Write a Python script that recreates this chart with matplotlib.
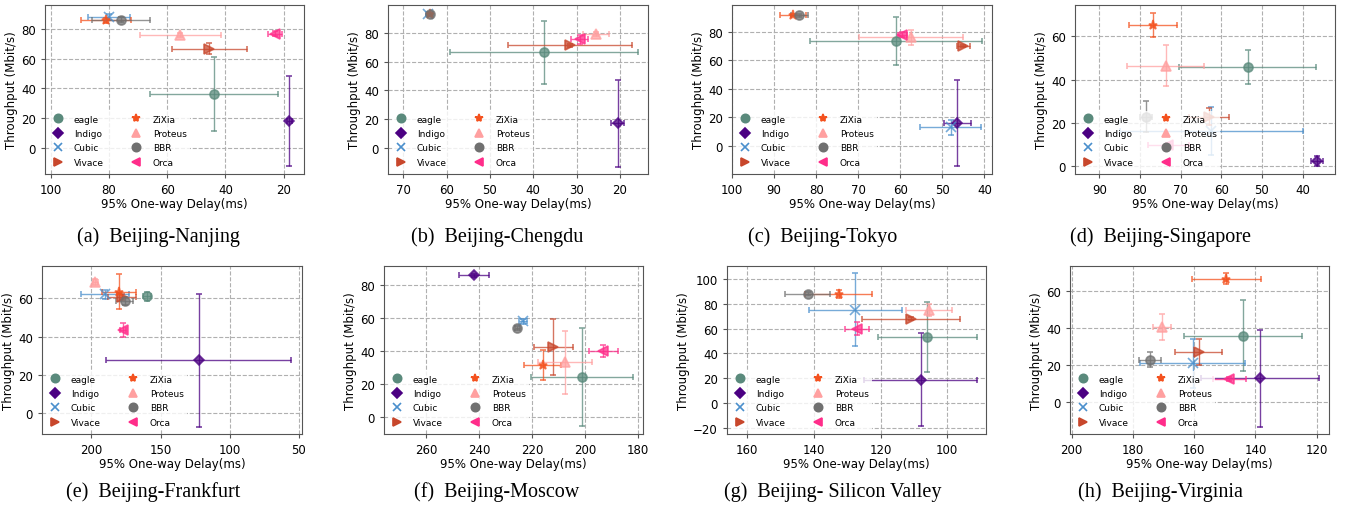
import matplotlib
matplotlib.use('Agg')
import matplotlib.pyplot as plt
from matplotlib.ticker import MultipleLocator
from matplotlib.lines import Line2D

# algorithms (same order in every route)
algos = ['eagle', 'Indigo', 'Cubic', 'Vivace', 'ZiXia', 'Proteus', 'BBR', 'Orca']
colors = ['#5a8a7c', '#4b0082', '#4a8fcc', '#c8472c', '#f4511e', '#ffa0a0', '#707070', '#ff2d8a']
markers = ['o', 'D', 'x', '>', '*', '^', 'o', '<']

routes = ['Beijing-Nanjing', 'Beijing-Chengdu', 'Beijing-Tokyo', 'Beijing-Singapore',
          'Beijing-Frankfurt', 'Beijing-Moscow', 'Beijing- Silicon Valley', 'Beijing-Virginia']

# 95% one-way delay (ms) and its error
delay = [
    [44, 18, 80, 45.5, 81, 55.5, 76, 23],
    [37.5, 20.5, 64.2, 31.5, 63.8, 25.5, 63.7, 29.3],
    [61, 46.5, 48, 45, 85.5, 57.5, 84, 59.5],
    [53.5, 36.5, 62.5, 63, 76.8, 73.7, 78.5, 73],
    [160, 122.5, 190, 178, 180, 197, 176, 177],
    [201, 242, 223.5, 212, 216, 207.5, 225.5, 193],
    [106, 108, 127.5, 111, 132.5, 105.5, 141.8, 127],
    [144, 138.5, 160.5, 158.5, 149.5, 170.5, 174.5, 148.5],
]
delay_err = [
    [22, 1, 7.3, 13, 8.5, 14, 10, 2.5],
    [21.7, 1.5, 0.5, 14.2, 0.5, 3, 0.5, 2],
    [20.5, 3.2, 7.2, 1.5, 3.2, 12.4, 2, 1],
    [16.8, 1.5, 22.5, 5, 6, 9.4, 1.5, 5],
    [3, 66.8, 17.2, 10, 12, 2, 6, 2],
    [19.4, 5.6, 1.5, 7.4, 6.9, 10.2, 1, 5.4],
    [14.8, 17, 13.9, 14.7, 10, 7, 6.7, 3.6],
    [19.3, 19.3, 17.2, 7.6, 11.2, 3, 3.6, 5.5],
]
# throughput (Mbit/s) and its error
thr = [
    [36, 18, 88, 67, 86, 76, 86.5, 77],
    [66.5, 17, 93, 71.5, 93.3, 79.5, 93, 75.5],
    [73.5, 16, 13, 70, 92, 76, 91.5, 78],
    [46, 2.5, 16.5, 23, 65.3, 46.5, 23, 10],
    [61, 27.5, 62, 60.5, 63.5, 68.5, 58.5, 43.5],
    [24, 86, 58, 42.5, 31.5, 33, 54, 40],
    [53, 19, 75, 68, 87.5, 75, 88, 60],
    [36, 13, 21, 27, 66.5, 40.5, 23, 12.5],
]
thr_err = [
    [25, 30.5, 2, 4, 1.5, 1.5, 1.5, 1.5],
    [22, 30, 0.5, 1, 0.5, 1.5, 0.5, 3],
    [16.7, 30, 5, 1, 0.7, 5.4, 1, 2],
    [7.8, 2.5, 11, 4, 5.5, 9.5, 7, 1],
    [2.5, 34.7, 2.5, 1.5, 9, 1.5, 2, 3.5],
    [29.9, 1, 1.5, 17, 9.2, 19, 1, 3.6],
    [28, 37.2, 29.2, 1, 3, 5, 1, 5],
    [19.3, 26.2, 13, 7, 3, 7, 4, 1],
]

xlims = [(102, 13), (73.5, 13.5), (100, 38.2), (96, 32),
         (235.6, 47.8), (276, 178), (166, 88.4), (200.5, 116)]
ylims = [(-17.8, 96.4), (-18.2, 99.5), (-19.6, 98.7), (-3.5, 74.5),
         (-11, 76.9), (-10.5, 91.7), (-24.5, 110.1), (-17, 73.4)]
xsteps = [20, 10, 10, 10, 50, 20, 20, 20]

W, H = 1347, 510
fig = plt.figure(figsize=(W / 100, H / 100), dpi=100)

# axes boxes in pixels: left, top, right, bottom
boxes = [(45, 6, 304, 175), (388, 6, 648, 175), (732, 6, 992, 175), (1075, 6, 1335, 175),
         (42, 267, 302, 435), (384, 267, 643, 435), (727, 267, 986, 435), (1070, 267, 1329, 435)]
cap_x = [158, 497, 823, 1160, 153, 497, 833, 1160]
cap_y = [237, 237, 237, 237, 492, 492, 492, 492]
letters = 'abcdefgh'

# legend shows only the markers
handles = [Line2D([], [], linestyle='none', marker=markers[j], color=colors[j],
                  ms=6 if markers[j] != 'D' else 5, mew=1.2, label=algos[j])
           for j in range(8)]

for i in range(8):
    l, t, r, b = boxes[i]
    ax = fig.add_axes([l / W, 1 - b / H, (r - l) / W, (b - t) / H])
    for j in range(8):
        ax.errorbar(delay[i][j], thr[i][j], xerr=delay_err[i][j], yerr=thr_err[i][j],
                    fmt=markers[j], color=colors[j], ms=6.5 if markers[j] != 'D' else 5.5,
                    mew=1.2, elinewidth=1, capsize=2, capthick=1, alpha=0.75)
    ax.set_xlim(*xlims[i])
    ax.set_ylim(*ylims[i])
    ax.xaxis.set_major_locator(MultipleLocator(xsteps[i]))
    ax.yaxis.set_major_locator(MultipleLocator(20))
    ax.grid(True, linestyle='--', color='#b0b0b0', linewidth=0.8)
    ax.set_axisbelow(True)
    for s in ax.spines.values():
        s.set_color('#555555')
    ax.tick_params(labelsize=8.5, length=3, color='#555555')
    ax.set_xlabel('95% One-way Delay(ms)', fontsize=8.5, labelpad=1)
    ax.set_ylabel('Throughput (Mbit/s)', fontsize=8.5, labelpad=2)
    ax.legend(handles=handles, loc='lower left', ncol=2, fontsize=6.5, frameon=True,
              facecolor='white', edgecolor='none', framealpha=0.8, handlelength=1.2,
              handletextpad=1.2, columnspacing=3.0, labelspacing=0.6, borderaxespad=0.4)
    fig.text(cap_x[i] / W, 1 - cap_y[i] / H, '(%s)  %s' % (letters[i], routes[i]),
             ha='center', va='center', fontsize=14.5, family='Liberation Serif')

fig.savefig('out.png', dpi=100)
plt.close(fig)
